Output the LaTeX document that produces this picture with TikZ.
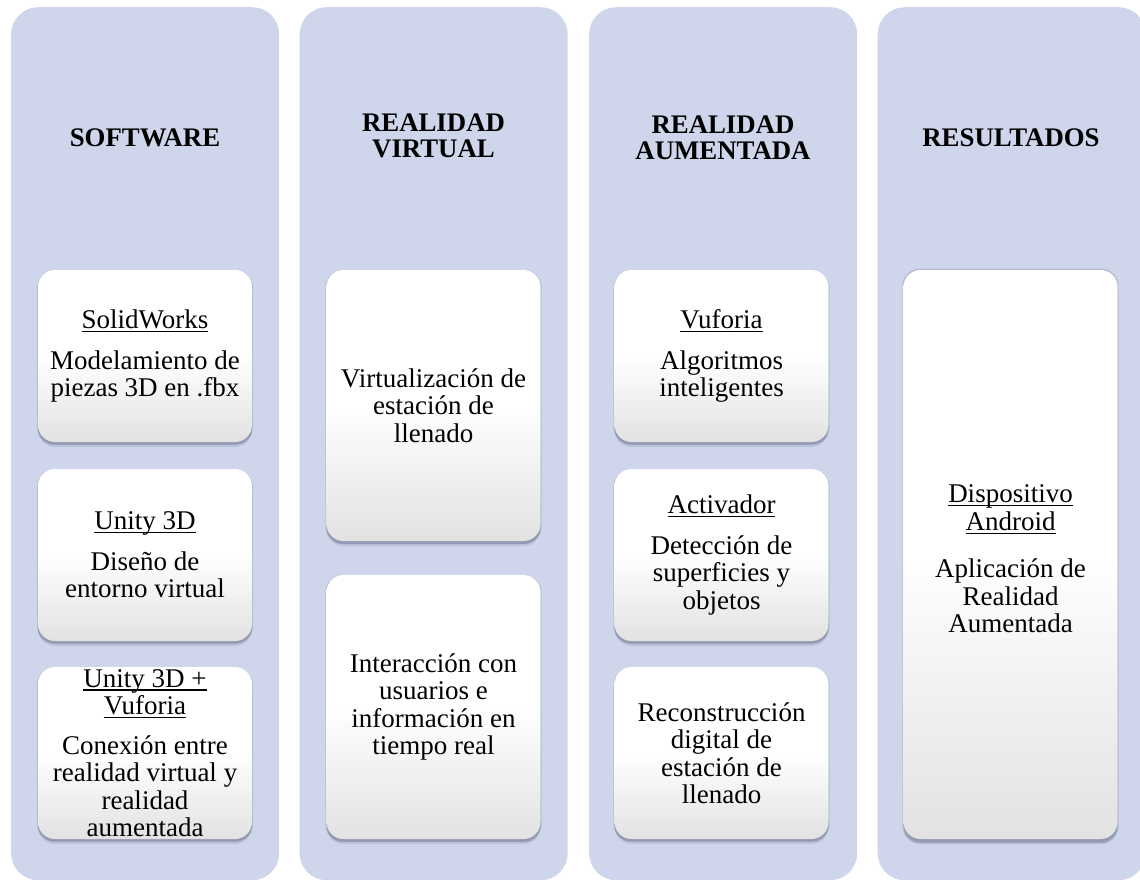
\documentclass[tikz,border=0pt]{standalone}
\usepackage{fontspec}
\setmainfont{Liberation Serif}
\usetikzlibrary{shadows}
\definecolor{lav}{HTML}{CFD5EA}
\definecolor{shd}{HTML}{555A78}
\definecolor{cardbot}{HTML}{E2E2E2}
\newcommand\myul[1]{\leavevmode\setbox0\hbox{#1}\rlap{\rule[-3.6pt]{\wd0}{1.2pt}}\box0}
\begin{document}
\begin{tikzpicture}[x=1pt,y=-1pt,
  colbox/.style={fill=lav, draw=none, rounded corners=27pt, minimum width=268pt,
    minimum height=873pt, inner sep=0pt, anchor=north west},
  card/.style={draw=none, rounded corners=17pt, minimum width=214pt, inner sep=0pt,
    general shadow={shadow yshift=-1.5pt, shadow scale=1.01, fill=shd, opacity=0.2},
    general shadow={shadow yshift=-3pt, fill=shd, opacity=0.22},
    general shadow={shadow yshift=-5pt, fill=shd, opacity=0.15},
    top color=white, bottom color=cardbot, middle color=white},
  cardtxt/.style={align=center, inner sep=0pt, font=\fontsize{27}{27.5}\selectfont},
  head/.style={align=center, inner sep=0pt, font=\bfseries\fontsize{26.8}{26}\selectfont}]
\useasboundingbox (0,0) rectangle (1140,879);

% columns
\node[colbox] (c1) at (11,7) {};
\node[colbox] (c2) at (299.5,7) {};
\node[colbox] (c3) at (589,7) {};
\node[colbox] (c4) at (877.5,7) {};

% headings
\node[head] (h1) at (145,138) {SOFTWARE};
\node[head] (h2) at (433.5,136) {REALIDAD\\VIRTUAL};
\node[head] (h3) at (723,138) {REALIDAD\\AUMENTADA};
\node[head] (h4) at (1011,138) {RESULTADOS};

% column 1
\node[card, minimum height=172pt] (b11) at (145,356) {};
\node[card, minimum height=172pt] (b12) at (145,555) {};
\node[card, minimum height=172pt] (b13) at (145,753) {};
\node[cardtxt] (t11) at (b11.center) {\myul{SolidWorks}\\[13pt]Modelamiento de\\piezas 3D en .fbx};
\node[cardtxt] (t12) at (b12.center) {\myul{Unity 3D}\\[13pt]Diseño de\\entorno virtual};
\node[cardtxt] (t13) at (b13.center) {\myul{Unity 3D +}\\\myul{Vuforia}\\[12pt]Conexión entre\\realidad virtual y\\realidad\\aumentada};

% column 2
\node[card, minimum height=271pt] (b21) at (433.5,405.5) {};
\node[card, minimum height=264pt] (b22) at (433.5,707) {};
\node[cardtxt] (t21) at (b21.center) {Virtualización de\\estación de\\llenado};
\node[cardtxt] (t22) at (b22.center) {Interacción con\\usuarios e\\información en\\tiempo real};

% column 3
\node[card, minimum height=172pt] (b31) at (721.5,356) {};
\node[card, minimum height=172pt] (b32) at (721.5,555) {};
\node[card, minimum height=172pt] (b33) at (721.5,753) {};
\node[cardtxt] (t31) at (b31.center) {\myul{Vuforia}\\[13pt]Algoritmos\\inteligentes};
\node[cardtxt] (t32) at (b32.center) {\myul{Activador}\\[13pt]Detección de\\superficies y\\objetos};
\node[cardtxt] (t33) at (b33.center) {Reconstrucción\\digital de\\estación de\\llenado};

% column 4
\node[card, minimum height=569pt] (b41) at (1010.5,554.5) {};
\node[cardtxt] (t41) at ([yshift=-4.5pt]b41.center) {\myul{Dispositivo}\\\myul{Android}\\[20pt]Aplicación de\\Realidad\\Aumentada};
\end{tikzpicture}
\end{document}
